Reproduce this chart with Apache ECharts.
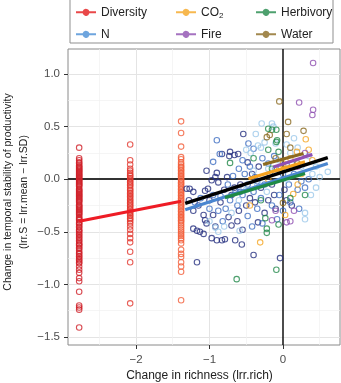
<!DOCTYPE html>
<html><head><meta charset="utf-8">
<script src="https://cdn.jsdelivr.net/npm/echarts@6/dist/echarts.min.js"></script>
<style>html,body{margin:0;padding:0;background:#fff}#c{width:341px;height:383px}</style>
</head><body><div id="c"></div>
<script>
// ---- data ----
const divX = [-2.773, -2.079, -1.386];
const divY1 = [0.30,0.20,0.18,0.16,0.15,0.13,0.12,0.11,0.10,0.09,0.08,0.07,0.06,0.05,0.04,0.03,0.02,0.01,0.00,-0.01,-0.02,-0.03,-0.04,-0.05,-0.06,-0.07,-0.09,-0.10,-0.11,-0.12,-0.13,-0.14,-0.15,-0.16,-0.17,-0.18,-0.19,-0.20,-0.21,-0.22,-0.24,-0.25,-0.26,-0.27,-0.28,-0.29,-0.30,-0.31,-0.32,-0.33,-0.34,-0.36,-0.37,-0.38,-0.39,-0.41,-0.42,-0.43,-0.45,-0.46,-0.48,-0.49,-0.50,-0.52,-0.53,-0.55,-0.56,-0.58,-0.59,-0.61,-0.62,-0.63,-0.65,-0.66,-0.68,-0.70,-0.71,-0.73,-0.74,-0.76,-0.77,-0.79,-0.80,-0.83,-0.86,-0.89,-0.94,-0.97,-1.07,-1.20,-1.22,-1.24,-1.41];
const divY2 = [0.33,0.18,0.14,0.10,0.08,0.06,0.04,0.03,0.01,0.00,-0.02,-0.03,-0.05,-0.06,-0.08,-0.10,-0.11,-0.13,-0.14,-0.16,-0.17,-0.19,-0.20,-0.22,-0.23,-0.25,-0.26,-0.28,-0.29,-0.31,-0.32,-0.34,-0.35,-0.37,-0.38,-0.40,-0.42,-0.45,-0.48,-0.52,-0.56,-0.60,-0.69,-0.79,-1.18];
const divY3 = [0.55,0.44,0.31,0.21,0.19,0.16,0.14,0.12,0.11,0.09,0.08,0.06,0.05,0.03,0.02,0.00,-0.01,-0.03,-0.04,-0.06,-0.07,-0.09,-0.10,-0.12,-0.13,-0.15,-0.16,-0.18,-0.19,-0.21,-0.22,-0.24,-0.25,-0.27,-0.28,-0.30,-0.31,-0.33,-0.34,-0.36,-0.37,-0.39,-0.40,-0.42,-0.44,-0.46,-0.48,-0.50,-0.52,-0.54,-0.56,-0.58,-0.61,-0.67,-0.71,-0.74,-0.79,-0.83,-0.88,-1.15];
const nDark = [[-1.31,-0.09],[-1.27,-0.09],[-1.22,-0.12],[-1.06,-0.11],[-1.04,0.08],[-0.90,0.06],[-0.92,0.02],[-0.97,-0.01],[-0.88,-0.03],[-1.02,-0.09],[-0.83,0.24],[-0.72,0.26],[-0.73,0.22],[-0.66,0.23],[-0.61,0.24],[-0.54,0.43],[-1.22,-0.47],[-1.17,-0.49],[-1.13,-0.50],[-1.08,-0.52],[-0.97,-0.56],[-0.90,-0.58],[-0.83,-0.58],[-0.79,-0.57],[-0.65,-0.58],[-0.56,-0.62],[-1.17,-0.79],[-0.40,-0.72],[-0.04,-0.75],[-1.08,-0.34],[-1.06,-0.39],[-1.04,-0.42],[-1.22,-0.30],[-1.15,-0.25],[-0.95,-0.34],[-0.74,-0.36],[-0.34,-0.41],[-0.60,-0.30],[-0.50,-0.25],[-0.45,-0.18],[-0.70,-0.15],[-0.80,-0.10],[-0.58,-0.05],[-0.42,0.05],[-0.30,-0.08],[-0.20,-0.20],[-0.10,-0.28],[0.05,-0.20],[-0.25,-0.32],[-0.62,-0.40],[-0.85,-0.22],[-1.00,-0.20],[-0.33,0.12],[-0.48,0.16],[-0.15,-0.05],[0.02,-0.10],[-0.55,-0.48],[-0.70,-0.44],[-1.28,-0.20],[-0.92,-0.45],[-0.66,-0.08],[-0.38,-0.22],[-0.12,-0.15],[0.12,-0.25],[-0.76,0.02]];
const nMid = [[-0.90,0.37],[-0.86,0.24],[-0.95,0.165],[-0.47,0.34],[-0.40,0.29],[-0.55,0.18],[-0.45,0.12],[-0.60,0.10],[-0.52,0.05],[-0.38,0.02],[-0.68,0.03],[-0.75,-0.05],[-0.65,-0.10],[-0.55,-0.15],[-0.40,-0.12],[-0.30,-0.18],[-0.25,-0.05],[-0.18,0.05],[-0.10,0.10],[-0.05,-0.15],[0.08,-0.05],[0.15,0.05],[0.20,-0.10],[0.25,-0.02],[-0.15,-0.25],[-0.35,-0.28],[-0.48,-0.35],[-0.62,-0.25],[-0.78,-0.28],[-0.88,-0.30],[-1.00,-0.28],[-1.12,-0.18],[-1.20,-0.22],[-0.95,-0.15],[-0.72,-0.20],[-0.28,0.20],[-0.20,0.15],[0.00,0.05],[0.10,-0.22],[0.35,0.00],[0.30,-0.08],[-0.08,-0.38],[-0.42,-0.45],[-0.82,-0.40],[0.12,0.15],[-0.12,0.22],[0.00,-0.30],[-0.28,-0.42],[0.22,-0.28],[-0.58,-0.12],[-0.85,-0.16],[-0.35,-0.02],[0.05,0.10],[-0.48,-0.05]];
const nLight = [[-0.37,0.43],[-0.15,0.53],[-0.13,0.50],[-0.29,0.53],[-0.34,0.32],[-0.44,0.25],[-0.50,0.28],[-0.30,0.30],[-0.25,0.35],[-0.10,0.34],[0.05,0.33],[0.15,0.39],[0.20,0.30],[0.10,0.25],[0.35,0.22],[0.45,0.12],[0.61,0.07],[0.50,0.02],[0.40,0.05],[-0.59,-0.49],[-0.88,-0.50],[-0.92,-0.46],[0.30,-0.32],[0.30,-0.38],[-0.20,0.10],[-0.05,0.18],[0.25,0.12],[-0.35,-0.05],[-0.60,-0.20],[-0.70,-0.32],[-0.50,-0.10],[0.45,-0.08],[0.38,-0.15],[-0.22,-0.12],[0.05,0.00],[-0.40,0.08],[-1.00,-0.40],[-0.80,-0.45]];
const co2Pts = [[0.31,0.38],[0.19,0.26],[0.14,-0.14],[0.03,-0.34],[-0.31,-0.60],[0.10,0.20],[-0.05,0.10],[0.25,0.05],[0.20,-0.05],[-0.20,0.00],[0.00,0.15],[-0.45,-0.25],[0.35,0.28],[0.40,0.18]];
const herbPts = [[-0.72,0.155],[-0.09,0.47],[-0.20,0.48],[-0.15,0.47],[-0.09,0.355],[-0.20,0.28],[-0.06,0.26],[0.30,-0.15],[-0.24,-0.37],[-0.06,-0.43],[-0.22,-0.47],[-0.22,-0.51],[-0.63,-0.95],[-0.09,-0.86],[-0.08,0.37],[-0.30,-0.20],[0.10,-0.18],[-0.40,0.20],[-0.15,0.10]];
const firePts = [[0.41,1.105],[0.22,0.73],[0.41,0.66],[0.40,0.61],[-0.15,-0.39],[0.05,-0.41],[0.10,-0.40],[0.30,0.25],[0.20,0.12],[-0.10,-0.30],[0.15,-0.30]];
const waterPts = [[-0.05,0.74],[0.07,0.545],[0.05,0.43],[0.28,0.46],[-0.18,0.42],[-0.22,0.40],[0.00,-0.225],[0.10,0.30],[0.20,0.15],[-0.10,0.20]];
// regression line end points
const divLine = [[-2.773,-0.40],[-1.386,-0.21]];
const nLine = [[-1.33,-0.29],[0.61,0.15]];
const herbLine = [[-0.79,-0.175],[0.30,0.054]];
const co2Line = [[-0.47,0.005],[0.30,0.165]];
const fireLine = [[-0.13,0.117],[0.40,0.235]];
const waterLine = [[-0.27,0.14],[0.28,0.244]];
const allLine = [[-1.33,-0.23],[0.61,0.206]];
// ticks
const xTicks = [-2,-1,0];
const yTicks = [-1.5,-1.0,-0.5,0.0,0.5,1.0];
const xMinor = [-2.5,-1.5,-0.5,0.5];
const yMinor = [-1.25,-0.75,-0.25,0.25,0.75];

const C = {div:'#e41a1c', div1:'#cf2129', div2:'#e2382f', div3:'#f25e3a',
  n:'#4a8fd6', nDark:'#25307f', nMid:'#3f6ec2', nLight:'#9cc8ea',
  co2:'#f5a623', herb:'#22884a', fire:'#8e4fb0', water:'#8b6a22'};
const FONT = '"Liberation Sans", Arial, Helvetica, sans-serif';

function scat(name, data, color){
  return {type:'scatter', name, data, symbol:'circle', symbolSize:5.5, z:3,
    itemStyle:{color:'rgba(0,0,0,0)', borderColor:color, borderWidth:1.1}, silent:true};
}
function ln(name, data, color, w, z){
  return {type:'line', name, data, symbol:'none', showSymbol:false, z:z||4,
    lineStyle:{color, width:w, type:'solid', cap:'butt'}, itemStyle:{color}, silent:true};
}
const gridLines = [];
xTicks.filter(v=>v!==0).forEach(v=>gridLines.push({xAxis:v, lineStyle:{color:'#e4e4e4', width:1, type:'solid'}}));
yTicks.filter(v=>v!==0).forEach(v=>gridLines.push({yAxis:v, lineStyle:{color:'#e4e4e4', width:1, type:'solid'}}));
xMinor.forEach(v=>gridLines.push({xAxis:v, lineStyle:{color:'#f1f1f1', width:0.7, type:'solid'}}));
yMinor.forEach(v=>gridLines.push({yAxis:v, lineStyle:{color:'#f1f1f1', width:0.7, type:'solid'}}));

const icon = 'path://M0,2.5 L6.646,2.5 A3.5,3.5 0 0,1 13.354,2.5 L20,2.5 L20,4.5 L13.354,4.5 A3.5,3.5 0 0,1 6.646,4.5 L0,4.5 Z';
function leg(left, items){
  return {left, top:5.3, padding:0, orient:'vertical', itemGap:8, itemWidth:20, itemHeight:7, icon,
    selectedMode:false,
    data: items.map(([n,c])=>({name:n, itemStyle:{color:c, borderColor:c, borderWidth:0}})),
    formatter: n => n==='CO2' ? 'CO{sub|2}' : n,
    textStyle:{fontFamily:FONT, fontSize:12, color:'#222', lineHeight:14,
      rich:{sub:{fontFamily:FONT, fontSize:8, lineHeight:14, verticalAlign:'bottom', padding:[4,0,0,0], color:'#222'}}}};
}

const chart = echarts.init(document.getElementById('c'), null, {renderer:'canvas'});
chart.setOption({
  animation:false,
  backgroundColor:'#fff',
  textStyle:{fontFamily:FONT},
  grid:{left:68, right:1, top:49, bottom:38, outerBoundsMode:'none', containLabel:false, show:true, borderColor:'#8a8a8a', borderWidth:1, backgroundColor:'transparent'},
  graphic:[{type:'rect', shape:{x:70, y:-1, width:263, height:44}, style:{fill:'#fff', stroke:'#8f8f8f', lineWidth:1}, z:0, silent:true}],
  legend:[
    leg(76, [['Diversity',C.div],['N',C.n]]),
    leg(176, [['CO2',C.co2],['Fire',C.fire]]),
    leg(256, [['Herbivory',C.herb],['Water',C.water]])
  ],
  xAxis:{type:'value', min:-2.925, max:0.776,
    axisLine:{show:false, onZero:false}, splitLine:{show:false},
    axisTick:{show:true, length:4, customValues:xTicks, lineStyle:{color:'#333'}},
    axisLabel:{customValues:xTicks, formatter:v=>String(v).replace('-','\u2212'), color:'#4d4d4d', fontSize:11.5, margin:9, fontFamily:FONT},
    name:'Change in richness (lrr.rich)', nameLocation:'middle', nameGap:25, nameMoveOverlap:false,
    nameTextStyle:{fontSize:12, color:'#222', fontFamily:FONT, padding:[0,9,0,0]}},
  yAxis:{type:'value', min:-1.576, max:1.238,
    axisLine:{show:false, onZero:false}, splitLine:{show:false},
    axisTick:{show:true, length:4, customValues:yTicks, lineStyle:{color:'#333'}},
    axisLabel:{customValues:yTicks, formatter:v=>v.toFixed(1).replace('-','\u2212'), color:'#4d4d4d', fontSize:11.5, margin:8, fontFamily:FONT},
    name:'Change in temporal stability of productivity\n(lrr.S = lrr.mean \u2212 lrr.SD)', nameLocation:'middle', nameRotate:90, nameGap:36, nameMoveOverlap:false,
    nameTextStyle:{fontSize:10.5, lineHeight:16, color:'#222', fontFamily:FONT, padding:[0,0,0,10]}},
  series:[
    {type:'scatter', name:'grid', data:[], silent:true, z:1,
      markLine:{silent:true, z:1, symbol:['none','none'], label:{show:false}, animation:false, data:gridLines}},
    {type:'scatter', name:'zero', data:[], silent:true, z:2,
      markLine:{silent:true, z:2, symbol:['none','none'], label:{show:false}, animation:false,
        data:[{yAxis:0, lineStyle:{color:'#333', width:2, type:'solid'}},{xAxis:0, lineStyle:{color:'#111', width:1.5, type:'solid'}}]}},
    scat('Diversity', divY1.map(y=>[divX[0],y]), C.div1),
    scat('Diversity', divY2.map(y=>[divX[1],y]), C.div2),
    scat('Diversity', divY3.map(y=>[divX[2],y]), C.div3),
    scat('N', nDark, C.nDark),
    scat('N', nMid, C.nMid),
    scat('N', nLight, C.nLight),
    scat('CO2', co2Pts, C.co2),
    scat('Herbivory', herbPts, C.herb),
    scat('Fire', firePts, C.fire),
    scat('Water', waterPts, C.water),
    ln('Diversity', divLine, '#ee1c25', 3),
    ln('N', nLine, '#4a86d0', 3.2),
    ln('Herbivory', herbLine, '#1f8a46', 3.2),
    ln('CO2', co2Line, '#f5a21f', 3.2),
    ln('Fire', fireLine, '#9050b4', 3.2),
    ln('Water', waterLine, '#8c6a20', 3.2),
    ln('all', allLine, '#000', 3.5, 5)
  ]
});
</script></body></html>
